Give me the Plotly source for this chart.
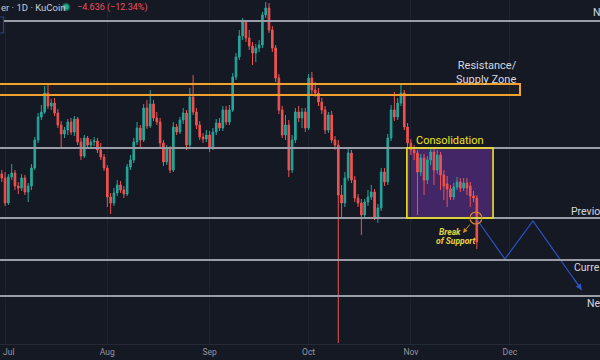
import plotly.graph_objects as go
import pandas as pd

# ---------------- data (daily candles, 2025-06-30 .. 2025-11-21) ----------------
start_date = "2025-06-30"
open_ = [39.6, 39.2, 36.7, 39.3, 39.7, 38.4, 38.2, 39.2, 37.8, 38.4,
         40.2, 43.0, 45.3, 45.8, 47.7, 46.4, 46.7, 45.7, 44.5, 43.6,
         44.0, 44.8, 43.8, 45.1, 42.8, 41.4, 43.2, 42.5, 42.8, 42.9,
         42.0, 41.3, 40.2, 37.3, 36.7, 37.7, 38.5, 38.0, 37.6, 40.3,
         41.0, 42.8, 44.2, 43.0, 46.2, 44.4, 46.6, 45.2, 44.8, 42.7,
         40.8, 42.2, 40.0, 44.3, 43.8, 45.0, 45.7, 42.5, 47.3, 45.8,
         44.5, 43.3, 43.1, 43.5, 42.3, 43.8, 44.7, 44.2, 46.0, 44.8,
         46.0, 49.3, 51.3, 53.4, 54.8, 53.2, 52.4, 51.7, 52.2, 52.5,
         55.5, 56.2, 54.0, 52.2, 49.2, 46.0, 43.5, 44.5, 40.0, 43.0,
         45.8, 45.2, 45.8, 44.2, 49.2, 48.0, 47.7, 46.8, 46.0, 44.0,
         45.5, 43.0, 42.5, 37.5, 36.7, 39.2, 41.7, 39.0, 37.2, 36.7,
         35.5, 36.8, 37.3, 37.8, 35.3, 36.2, 39.8, 38.8, 43.2, 46.0,
         45.3, 46.7, 47.7, 44.3, 42.7, 42.0, 41.7, 39.8, 41.2, 39.0,
         41.0, 41.8, 40.0, 41.5, 39.5, 38.6, 38.1, 37.3, 38.3, 38.8,
         38.2, 38.7, 38.4, 37.4, 37.2]
close_ = [39.2, 36.7, 39.3, 39.7, 38.4, 38.2, 39.2, 37.8, 38.4, 40.2,
          43.0, 45.3, 45.8, 47.7, 46.4, 46.7, 45.7, 44.5, 43.6, 44.0,
          44.8, 43.8, 45.1, 42.8, 41.4, 43.2, 42.5, 42.8, 42.9, 42.0,
          41.3, 40.2, 37.3, 36.7, 37.7, 38.5, 38.0, 37.6, 40.3, 41.0,
          42.8, 44.2, 43.0, 46.2, 44.4, 46.6, 45.2, 44.8, 42.7, 40.8,
          42.2, 40.0, 44.3, 43.8, 45.0, 45.7, 42.5, 47.3, 45.8, 44.5,
          43.3, 43.1, 43.5, 42.3, 43.8, 44.7, 44.2, 46.0, 44.8, 46.0,
          49.3, 51.3, 53.4, 54.8, 53.2, 52.4, 51.7, 52.2, 52.5, 55.5,
          56.2, 54.0, 52.2, 49.2, 46.0, 43.5, 44.5, 40.0, 43.0, 45.8,
          45.2, 45.8, 44.2, 49.2, 48.0, 47.7, 46.8, 46.0, 44.0, 45.5,
          43.0, 42.5, 37.5, 36.7, 39.2, 41.7, 39.0, 37.2, 36.7, 35.5,
          36.8, 37.3, 37.8, 35.3, 36.2, 39.8, 38.8, 43.2, 46.0, 45.3,
          46.7, 47.7, 44.3, 42.7, 42.0, 41.7, 39.8, 41.2, 39.0, 41.0,
          41.8, 40.0, 41.5, 39.5, 38.4, 38.1, 37.3, 38.3, 38.8, 38.2,
          38.7, 38.2, 37.4, 37.2, 32.8]
high_ = [40.0, 39.8, 39.6, 40.6, 40.0, 38.8, 39.6, 39.5, 38.7, 40.6,
         43.3, 45.7, 46.5, 48.4, 48.6, 47.1, 47.2, 46.1, 44.9, 44.3,
         45.1, 45.2, 45.4, 45.3, 43.2, 43.5, 43.4, 43.1, 43.3, 43.2,
         42.7, 41.6, 40.5, 37.7, 38.2, 39.0, 38.9, 38.4, 40.6, 41.5,
         43.2, 44.8, 44.5, 46.6, 47.0, 48.0, 47.0, 45.8, 45.2, 43.0,
         42.5, 42.4, 44.8, 44.6, 45.3, 46.2, 46.0, 48.2, 49.5, 46.2,
         44.9, 43.7, 44.0, 43.9, 44.2, 45.1, 45.2, 46.4, 46.4, 46.5,
         49.7, 51.7, 54.0, 55.2, 55.0, 54.0, 52.8, 52.6, 53.0, 55.8,
         56.8, 56.7, 54.4, 52.5, 49.6, 46.4, 45.5, 45.0, 43.5, 46.2,
         46.4, 46.2, 46.2, 49.6, 49.8, 48.8, 48.2, 47.2, 46.4, 45.8,
         45.9, 43.4, 43.0, 38.5, 39.8, 42.2, 42.0, 39.4, 37.6, 37.1,
         37.1, 38.0, 38.5, 38.1, 36.6, 40.2, 40.2, 43.6, 46.5, 47.8,
         47.2, 48.5, 48.0, 44.7, 43.1, 42.5, 42.0, 41.6, 41.6, 41.4,
         42.2, 42.1, 42.0, 41.8, 40.0, 39.4, 38.5, 38.7, 39.3, 39.2,
         39.2, 39.2, 38.8, 37.9, 37.5]
low_ = [38.8, 36.4, 36.5, 39.0, 38.0, 37.6, 37.9, 37.5, 36.8, 38.0,
        40.0, 42.7, 45.0, 45.6, 46.1, 46.0, 45.4, 44.2, 42.3, 43.2,
        43.5, 43.5, 43.4, 42.5, 41.0, 41.2, 42.1, 42.2, 42.4, 41.7,
        41.0, 39.9, 36.3, 35.6, 36.4, 37.4, 37.7, 37.2, 37.4, 40.0,
        40.7, 42.5, 42.2, 42.8, 44.1, 44.2, 44.9, 44.5, 42.3, 40.4,
        40.5, 39.7, 39.8, 43.5, 43.6, 44.6, 42.0, 42.2, 45.5, 44.1,
        43.0, 42.7, 42.8, 41.8, 42.0, 43.5, 43.9, 43.9, 44.5, 44.5,
        45.8, 49.0, 51.0, 53.0, 52.8, 52.0, 50.5, 50.8, 51.8, 52.2,
        55.2, 53.7, 51.8, 48.8, 45.6, 43.2, 43.0, 39.3, 39.7, 42.7,
        44.8, 44.2, 43.8, 44.0, 47.5, 47.3, 46.4, 45.6, 43.6, 43.7,
        42.7, 42.0, 22.7, 35.2, 36.3, 38.9, 38.7, 36.8, 36.3, 33.5,
        35.2, 36.4, 37.0, 35.0, 34.7, 35.9, 38.4, 38.5, 42.9, 44.9,
        45.0, 46.4, 44.0, 42.3, 41.5, 41.0, 35.5, 39.4, 37.5, 38.6,
        40.5, 38.5, 39.6, 38.0, 37.0, 36.3, 37.0, 37.0, 38.0, 37.8,
        37.9, 37.5, 36.3, 36.8, 32.1]

# key horizontal levels (price)
level_prices = [54.9, 42.2, 35.2, 31.0, 27.4]
zone_low, zone_high = 47.5, 48.6
zone_end = "2025-12-04 02:00"
consol_start, consol_end = "2025-10-30 19:00", "2025-11-25 22:00"
consol_low, consol_high = 35.2, 42.2
zig_dates = ["2025-11-20 17:00", "2025-11-29 12:00", "2025-12-08 00:00", "2025-12-22 19:00"]
zig_prices = [35.2, 31.1, 34.9, 28.0]
break_date, break_price = "2025-11-20 17:00", 35.2
month_ticks = ["2025-07-01", "2025-08-01", "2025-09-01", "2025-10-01", "2025-11-01", "2025-12-01"]
month_labels = ["Jul", "Aug", "Sep", "Oct", "Nov", "Dec"]

dates = pd.date_range(start_date, periods=len(close_), freq="D")

BG = "#151924"
GREEN = "#26a69a"
RED = "#ef5350"
GRAY = "#9a9da6"
ORANGE = "#f0a12e"
YELLOW = "#f2e31b"
BLUE = "#2d52c4"
FONT = "Roboto"
TICKCOL = "#9598a1"

H = 344.0  # plot-area height in px


def px(x):
    return x / 600.0


def py(y):
    return 1 - y / H


fig = go.Figure()
fig.add_trace(go.Candlestick(
    x=dates, open=open_, high=high_, low=low_, close=close_,
    increasing=dict(line=dict(color=GREEN, width=1), fillcolor=GREEN),
    decreasing=dict(line=dict(color=RED, width=1), fillcolor=RED),
    whiskerwidth=0, showlegend=False, hoverinfo="skip"))

fig.add_trace(go.Scatter(x=zig_dates, y=zig_prices, mode="lines",
                         line=dict(color=BLUE, width=1.2),
                         showlegend=False, hoverinfo="skip"))

# consolidation box (behind candles)
fig.add_shape(type="rect", xref="x", yref="y", x0=consol_start, x1=consol_end,
              y0=consol_low, y1=consol_high, line=dict(width=0),
              fillcolor="rgba(112,52,165,0.50)", layer="below")

# horizontal levels
for lvl in level_prices:
    fig.add_shape(type="line", xref="paper", yref="y", x0=0, x1=1, y0=lvl, y1=lvl,
                  line=dict(color=GRAY, width=2), layer="above")

# consolidation border
fig.add_shape(type="rect", xref="x", yref="y", x0=consol_start, x1=consol_end,
              y0=consol_low, y1=consol_high, line=dict(color=YELLOW, width=1.6),
              fillcolor="rgba(0,0,0,0)", layer="above")

# resistance / supply zone
fig.add_shape(type="rect", xref="x", yref="y", x0="2025-06-20", x1=zone_end,
              y0=zone_low, y1=zone_high, line=dict(color=ORANGE, width=2),
              fillcolor="rgba(240,161,46,0.04)", layer="above")

# break circle
fig.add_shape(type="circle", xref="x", yref="y", xsizemode="pixel", ysizemode="pixel",
              xanchor=break_date, yanchor=break_price, x0=-6, x1=6, y0=-6, y1=6,
              line=dict(color="#d4892b", width=1.2), layer="above")

# top-left small box & status dot
fig.add_shape(type="rect", xref="paper", yref="paper", x0=-0.02, x1=px(3.5),
              y0=py(33), y1=py(17), line=dict(color="#2c3f8c", width=1.2),
              fillcolor=BG, layer="above")
fig.add_shape(type="circle", xref="paper", yref="paper", xsizemode="pixel", ysizemode="pixel",
              xanchor=px(66), yanchor=py(7), x0=-3.5, x1=3.5, y0=-3.5, y1=3.5,
              line=dict(color="#16594f", width=1.5), fillcolor="#22ab94", layer="above")

ann = []
# header
ann.append(dict(text="er · 1D · KuCoin", x=px(-1), y=py(7), xanchor="left", yanchor="middle",
                font=dict(family=FONT, size=9.5, color="#c9ccd4")))
ann.append(dict(text="−4.636 (−12.34%)", x=px(75), y=py(7), xanchor="left", yanchor="middle",
                font=dict(family=FONT, size=9, color="#f0505c")))
# right-side level labels (the reference window cuts them)
ann.append(dict(text="N", x=px(591), y=py(13), xanchor="left", yanchor="middle",
                font=dict(family=FONT, size=10.5, color="#d6d8de")))
ann.append(dict(text="Previo", x=px(569), y=py(211), xanchor="left", yanchor="middle",
                font=dict(family=FONT, size=10.5, color="#d6d8de")))
ann.append(dict(text="Curre", x=px(572), y=py(267), xanchor="left", yanchor="middle",
                font=dict(family=FONT, size=10.5, color="#d6d8de")))
ann.append(dict(text="Ne", x=px(585), y=py(303), xanchor="left", yanchor="middle",
                font=dict(family=FONT, size=10.5, color="#d6d8de")))
# zone labels
ann.append(dict(text="Resistance/<br>Supply Zone", x=px(519), y=py(72), xanchor="right",
                yanchor="middle", align="right",
                font=dict(family=FONT, size=11, color="#d6d8de")))
ann.append(dict(text="Consolidation", x=px(450), y=py(140), xanchor="center", yanchor="middle",
                font=dict(family=FONT, size=11, color=YELLOW)))
ann.append(dict(text="<b><i>Break</i></b>", x=px(437), y=py(232), xanchor="left", yanchor="middle",
                font=dict(family=FONT, size=8.5, color="#e6d43f")))
ann.append(dict(text="<b><i>of Support</i></b>", x=px(434), y=py(241), xanchor="left", yanchor="middle",
                font=dict(family=FONT, size=8.5, color="#e6d43f")))
# first month label sits at the left edge
ann.append(dict(text=month_labels[0], x=px(1), y=py(352), xanchor="left", yanchor="middle",
                font=dict(family=FONT, size=8.5, color=TICKCOL)))
for a in ann:
    a.update(xref="paper", yref="paper", showarrow=False)

# arrows
ann.append(dict(x=px(463), y=py(233), xref="paper", yref="paper", ax=8, ay=-10,
                showarrow=True, arrowhead=2, arrowsize=0.9, arrowwidth=1,
                arrowcolor="#d4892b", text=""))
ann.append(dict(x=zig_dates[-1], y=zig_prices[-1], xref="x", yref="y", ax=-9, ay=-13,
                showarrow=True, arrowhead=2, arrowsize=1, arrowwidth=1.2,
                arrowcolor=BLUE, text="", standoff=0))

fig.update_layout(
    width=600, height=360,
    margin=dict(l=0, r=0, t=0, b=16),
    paper_bgcolor=BG, plot_bgcolor=BG,
    annotations=ann,
    xaxis=dict(type="date", range=["2025-06-29 11:00", "2025-12-28 08:00"],
               tickvals=month_ticks, ticktext=[""] + month_labels[1:],
               showgrid=True, gridcolor="#1e2230",
               gridwidth=1, ticks="", tickfont=dict(family=FONT, size=8.5, color=TICKCOL),
               showline=True, linecolor="#262a36", zeroline=False,
               rangeslider=dict(visible=False), fixedrange=True),
    yaxis=dict(range=[22.6, 57.0], showticklabels=False, showgrid=False,
               zeroline=False, fixedrange=True),
    hovermode=False,
)

fig.write_html("out.html", config={"displayModeBar": False},
               post_script="document.body.style.margin='0';document.body.style.background='#151924';document.body.style.overflow='hidden';")
